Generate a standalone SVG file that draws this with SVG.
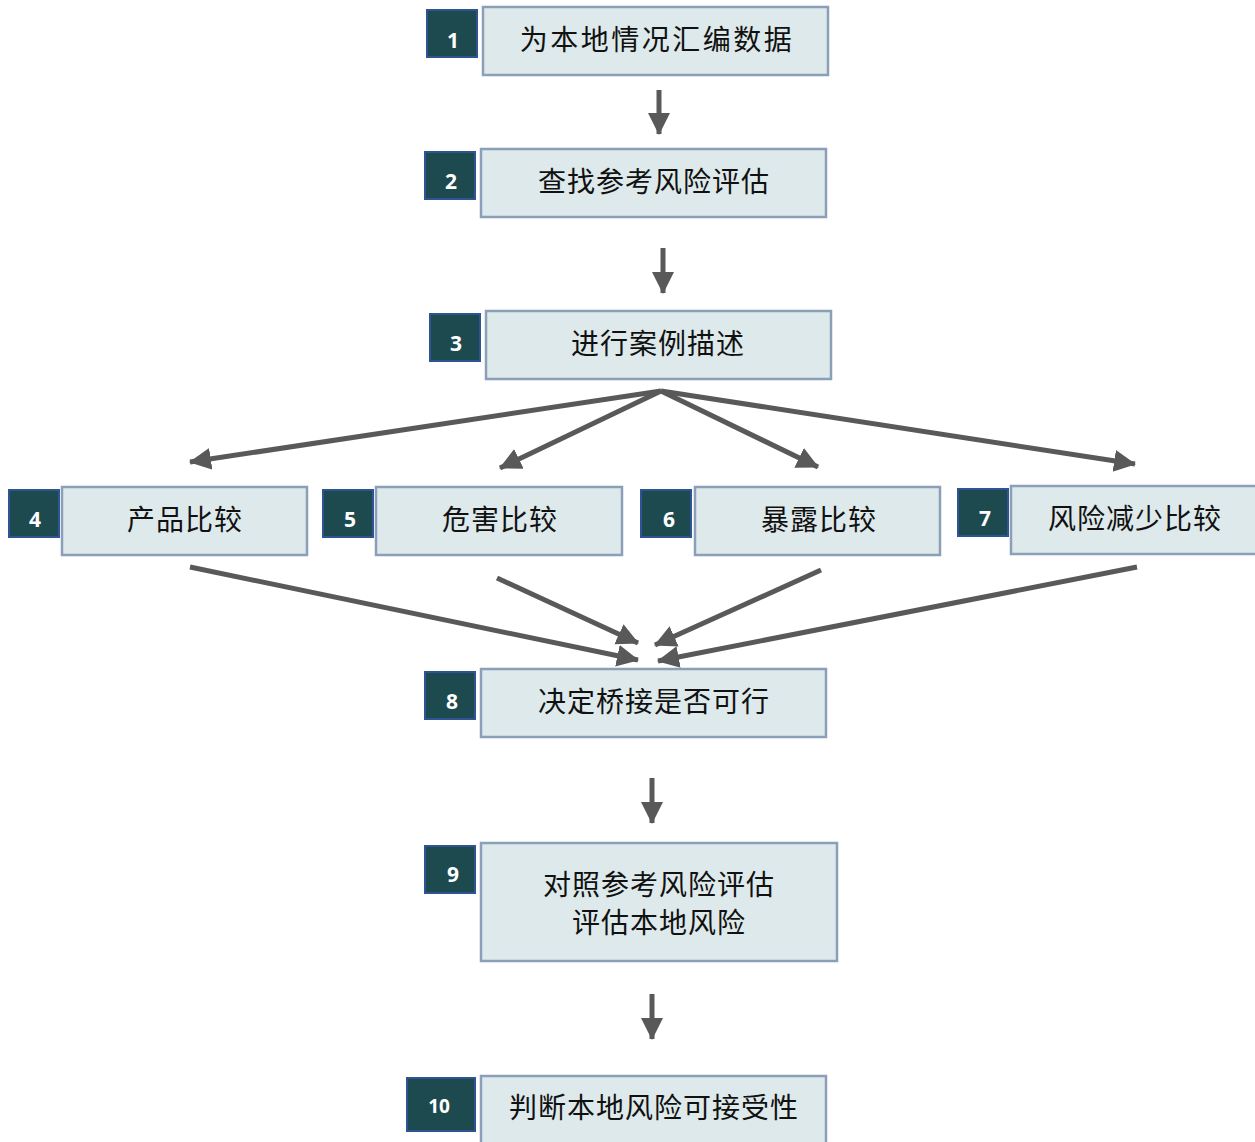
<svg xmlns="http://www.w3.org/2000/svg" width="1255" height="1142" viewBox="0 0 1255 1142">
<defs>
<style>
.box{fill:#dde9ea;stroke:#8c9fb9;stroke-width:2.5}
.badge{fill:#1d4a4f;stroke:#2f5496;stroke-width:2}
.num{fill:#fff;font-family:"Open Sans","DejaVu Sans",sans-serif;font-weight:bold;font-size:21px;text-anchor:middle;dominant-baseline:central}
.lbl{fill:#111;font-family:"Noto Sans CJK SC",sans-serif;font-size:28px;text-anchor:middle;dominant-baseline:central}
.con{stroke:#595959;stroke-width:5;fill:none;marker-end:url(#ah)}
</style>
<marker id="ah" markerUnits="userSpaceOnUse" markerWidth="24" markerHeight="24" viewBox="0 0 24 24" refX="21" refY="12" orient="auto">
<path d="M0,1 L22,12 L0,23 Z" fill="#595959"/>
</marker>
</defs>
<rect width="1255" height="1142" fill="#fff"/>
<g id="connectors">
<line class="con" x1="659" y1="90" x2="659" y2="134"/>
<line class="con" x1="663" y1="248" x2="663" y2="293"/>
<line class="con" x1="661" y1="391" x2="190" y2="462"/>
<line class="con" x1="661" y1="391" x2="500" y2="468"/>
<line class="con" x1="661" y1="391" x2="818" y2="467"/>
<line class="con" x1="661" y1="391" x2="1135" y2="464"/>
<line class="con" x1="190" y1="567" x2="638" y2="660"/>
<line class="con" x1="497" y1="578" x2="638" y2="643"/>
<line class="con" x1="821" y1="570" x2="655" y2="645"/>
<line class="con" x1="1137" y1="567" x2="658" y2="661"/>
<line class="con" x1="652" y1="778" x2="652" y2="823"/>
<line class="con" x1="652" y1="994" x2="652" y2="1039"/>
</g>
<g id="n1">
<rect class="box" x="483" y="7" width="345" height="68"/>
<rect class="badge" x="427" y="10" width="50" height="47"/>
<text class="num" x="453" y="40">1</text>
<text class="lbl" x="657" y="38" letter-spacing="2.5">为本地情况汇编数据</text>
</g>
<g id="n2">
<rect class="box" x="481" y="149" width="345" height="68"/>
<rect class="badge" x="425" y="152" width="50" height="47"/>
<text class="num" x="451" y="181">2</text>
<text class="lbl" x="654" y="180" letter-spacing="1">查找参考风险评估</text>
</g>
<g id="n3">
<rect class="box" x="486" y="311" width="345" height="68"/>
<rect class="badge" x="430" y="314" width="50" height="47"/>
<text class="num" x="456" y="343">3</text>
<text class="lbl" x="658" y="342" letter-spacing="1">进行案例描述</text>
</g>
<g id="n4">
<rect class="box" x="62" y="487" width="245" height="68"/>
<rect class="badge" x="9" y="490" width="50" height="47"/>
<text class="num" x="35" y="519">4</text>
<text class="lbl" x="185" y="518" letter-spacing="1">产品比较</text>
</g>
<g id="n5">
<rect class="box" x="376" y="487" width="246" height="68"/>
<rect class="badge" x="323" y="490" width="50" height="47"/>
<text class="num" x="350" y="519">5</text>
<text class="lbl" x="500" y="518" letter-spacing="1">危害比较</text>
</g>
<g id="n6">
<rect class="box" x="695" y="487" width="245" height="68"/>
<rect class="badge" x="641" y="490" width="50" height="47"/>
<text class="num" x="669" y="519">6</text>
<text class="lbl" x="819" y="518" letter-spacing="1">暴露比较</text>
</g>
<g id="n7">
<rect class="box" x="1011" y="486" width="250" height="68"/>
<rect class="badge" x="958" y="489" width="50" height="47"/>
<text class="num" x="985" y="518">7</text>
<text class="lbl" x="1135" y="517" letter-spacing="1">风险减少比较</text>
</g>
<g id="n8">
<rect class="box" x="481" y="669" width="345" height="68"/>
<rect class="badge" x="425" y="672" width="50" height="47"/>
<text class="num" x="452" y="701">8</text>
<text class="lbl" x="654" y="700" letter-spacing="1">决定桥接是否可行</text>
</g>
<g id="n9">
<rect class="box" x="481" y="843" width="356" height="118"/>
<rect class="badge" x="425" y="846" width="50" height="47"/>
<text class="num" x="453" y="874">9</text>
<text class="lbl" x="659" y="883" letter-spacing="1">对照参考风险评估</text>
<text class="lbl" x="659" y="921" letter-spacing="1">评估本地风险</text>
</g>
<g id="n10">
<rect class="box" x="481" y="1076" width="345" height="72"/>
<rect class="badge" x="407" y="1078" width="68" height="53"/>
<text class="num" x="439" y="1106" style="font-size:19px">10</text>
<text class="lbl" x="654" y="1106" letter-spacing="1">判断本地风险可接受性</text>
</g>
</svg>
